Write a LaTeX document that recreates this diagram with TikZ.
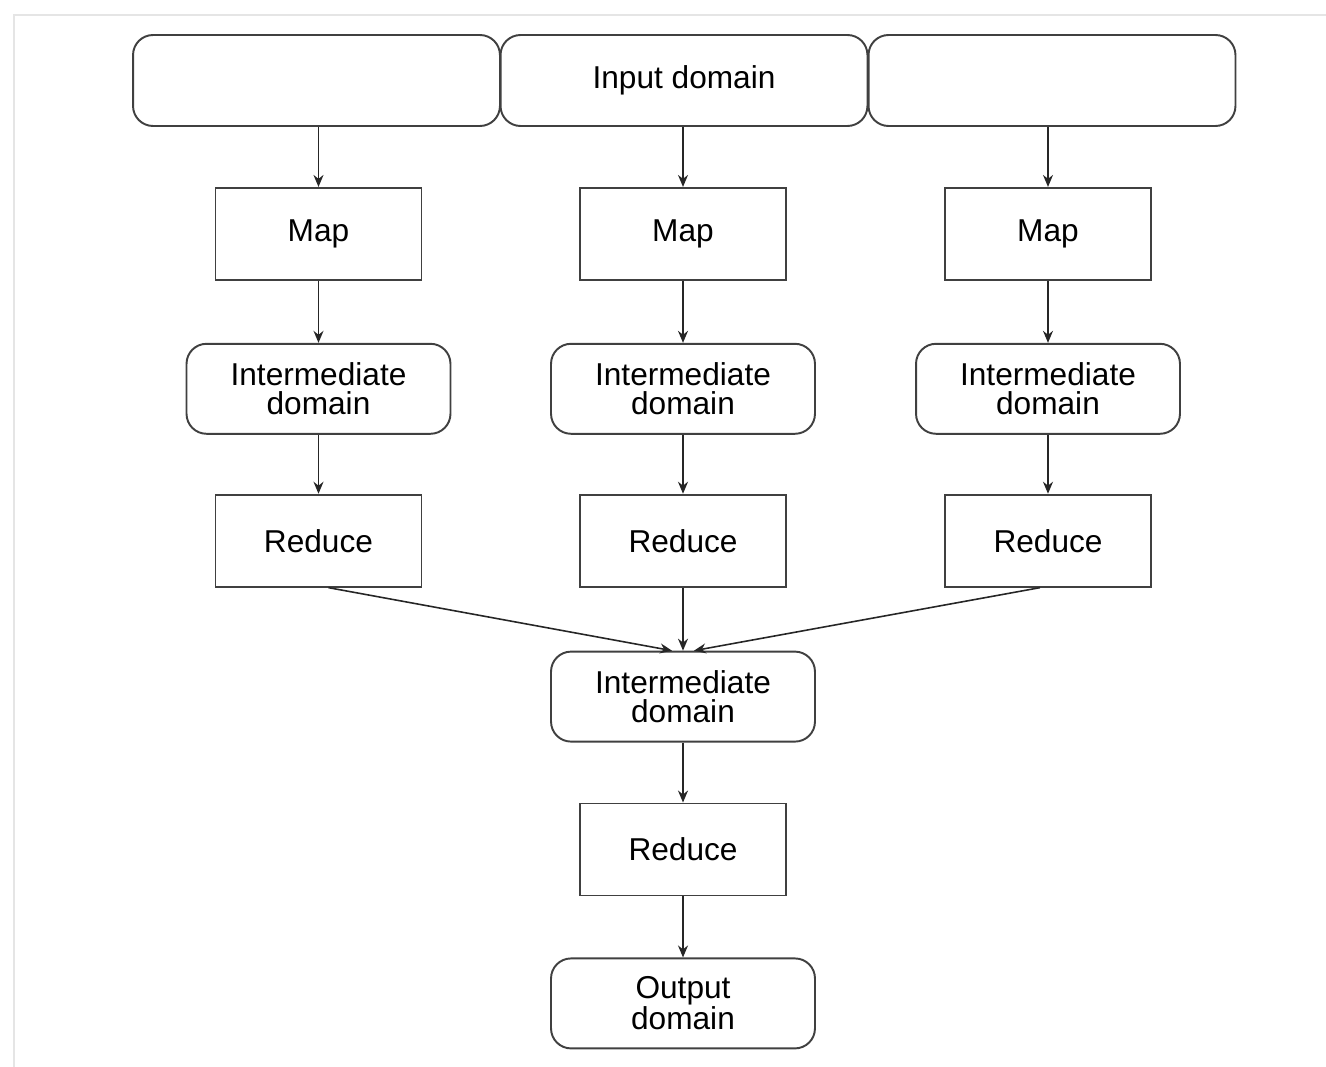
\documentclass[tikz,border=0pt]{standalone}
\usepackage{fontspec}
\setmainfont{Liberation Sans}
\usetikzlibrary{positioning,arrows.meta}

\begin{document}
\begin{tikzpicture}
		[x=0.02cm,y=-0.02cm,
		dombox/.style={rectangle,rounded corners=0.4cm,draw=black!75,fill=white,line width=1.1pt,inner sep=0pt,
			minimum width=5.28cm,minimum height=1.8cm,align=center,font=\fontsize{18}{16.5}\selectfont},
		inseg/.style={dombox,minimum width=7.34cm,minimum height=1.82cm},
		work/.style={rectangle,draw=black!75,fill=white,line width=1.1pt,inner sep=0pt,
			minimum width=4.12cm,minimum height=1.84cm,font=\fontsize{18}{16.5}\selectfont},
		flow/.style={-{Stealth[length=2.4mm,width=2mm]},line width=0.9pt,black!85}]
		\useasboundingbox (0,0) rectangle (1326,1067);
		\draw [gray!20,line width=1pt] (14,1067) -- (14,15) -- (1326,15);

		\node [inseg] (in1) at (316.5,80.5) {};
		\node [inseg] (in2) at (684,80.5) {Input domain};
		\node [inseg] (in3) at (1052,80.5) {};

		\node [work] (map1) [below=1.2cm of in1,xshift=0.04cm] {Map};
		\node [work] (map2) [below=1.2cm of in2,xshift=-0.02cm] {Map};
		\node [work] (map3) [below=1.2cm of in3,xshift=-0.08cm] {Map};

		\node [dombox] (im1) [below=1.24cm of map1] {Intermediate\\domain};
		\node [dombox] (im2) [below=1.24cm of map2] {Intermediate\\domain};
		\node [dombox] (im3) [below=1.24cm of map3] {Intermediate\\domain};

		\node [work] (red1) [below=1.18cm of im1] {Reduce};
		\node [work] (red2) [below=1.18cm of im2] {Reduce};
		\node [work] (red3) [below=1.18cm of im3] {Reduce};

		\node [dombox] (imall) [below=1.26cm of red2] {Intermediate\\domain};
		\node [work] (redall) [below=1.2cm of imall] {Reduce};
		\node [dombox] (out) [below=1.22cm of redall] {Output\\domain};

		\draw [flow] (map1.north |- in1.south) -- (map1);
		\draw [flow] (map2.north |- in2.south) -- (map2);
		\draw [flow] (map3.north |- in3.south) -- (map3);
		\draw [flow] (map1) -- (im1);
		\draw [flow] (map2) -- (im2);
		\draw [flow] (map3) -- (im3);
		\draw [flow] (im1) -- (red1);
		\draw [flow] (im2) -- (red2);
		\draw [flow] (im3) -- (red3);

		\draw [flow] ([xshift=0.2cm]red1.south) -- ([xshift=-0.22cm]imall.north);
		\draw [flow] (red2) -- (imall);
		\draw [flow] ([xshift=-0.16cm]red3.south) -- ([xshift=0.22cm]imall.north);

		\draw [flow] (imall) -- (redall);
		\draw [flow] (redall) -- (out);

	\end{tikzpicture}
\end{document}
